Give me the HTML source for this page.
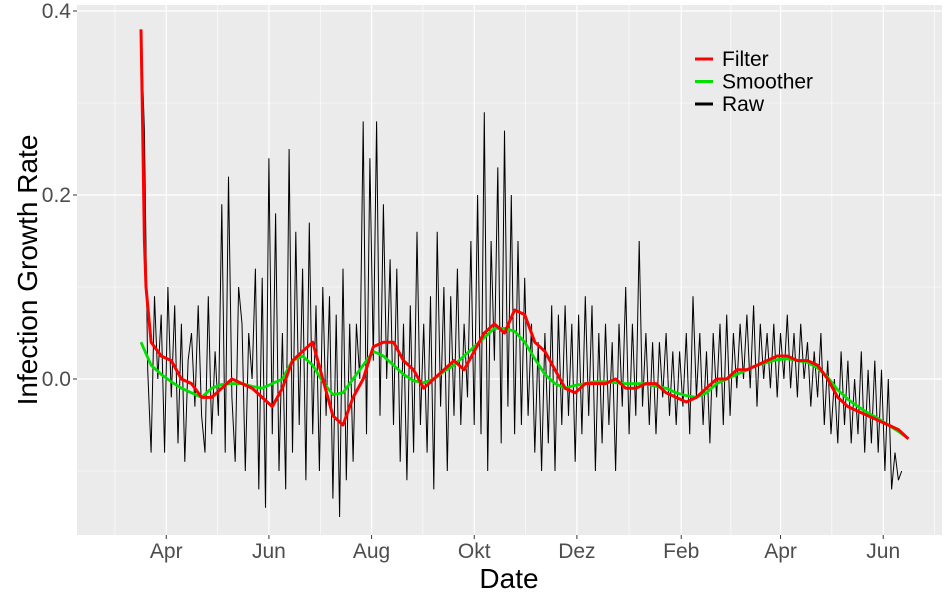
<!DOCTYPE html>
<html><head><meta charset="utf-8"><style>
body{margin:0;background:#fff;}
svg{display:block;font-family:"Liberation Sans",sans-serif;}
</style></head><body>
<svg id="chart" width="950" height="600"></svg>
<script>
const rawValues=[
0.38,0.27,0.01,-0.08,0.09,0.0,0.07,-0.08,0.10,-0.02,
0.08,-0.07,0.06,-0.09,0.02,0.05,-0.03,0.08,-0.04,-0.08,
0.09,-0.06,0.03,-0.04,0.19,-0.08,0.22,-0.02,-0.09,0.1,
0.06,-0.1,0.05,0.0,0.12,-0.12,0.11,-0.14,0.24,-0.06,
0.18,-0.1,0.05,-0.12,0.25,-0.08,0.16,-0.05,0.12,-0.11,
0.17,-0.06,0.08,-0.1,0.1,-0.04,0.09,-0.13,0.07,-0.15,
0.12,-0.11,0.06,-0.09,0.06,0.0,0.28,-0.06,0.24,0.02,
0.28,-0.04,0.19,0.0,0.13,-0.05,0.12,-0.09,0.06,-0.11,
0.08,-0.08,0.16,-0.05,0.06,-0.08,0.09,-0.12,0.16,-0.03,
0.10,-0.1,0.09,-0.04,0.12,-0.05,0.06,-0.02,0.15,-0.05,
0.2,-0.06,0.29,-0.1,0.15,0.02,0.23,-0.07,0.27,-0.03,
0.2,-0.06,0.15,-0.05,0.11,-0.04,0.06,-0.08,0.04,-0.1,
0.05,-0.07,0.08,-0.1,0.07,-0.05,0.08,-0.04,0.06,-0.09,
0.07,-0.06,0.09,-0.04,0.08,-0.1,0.05,-0.07,0.06,-0.05,
0.04,-0.1,0.06,-0.03,0.1,-0.06,0.06,-0.04,0.15,-0.03,
0.05,-0.05,0.04,-0.06,0.04,-0.02,0.05,-0.04,0.03,-0.05,
0.03,-0.03,0.05,-0.06,0.09,-0.02,0.05,-0.05,0.03,-0.07,
0.05,-0.02,0.06,-0.05,0.07,-0.04,0.05,-0.01,0.06,0.0,
0.07,-0.01,0.08,-0.03,0.06,0.0,0.05,-0.01,0.06,-0.02,
0.05,0.0,0.07,-0.01,0.05,-0.02,0.06,0.0,0.04,-0.03,
0.03,-0.02,0.05,-0.05,0.02,-0.06,0.0,-0.07,0.03,-0.05,
0.02,-0.07,0.0,-0.06,0.03,-0.08,0.01,-0.07,0.02,-0.08,
0.01,-0.1,0.0,-0.12,-0.08,-0.11,-0.1];
const rawStepDays=2;
const filterDays=[0,1,2,3,5,6,12,18,24,30,36,42,48,54,60,66,72,78,84,90,96,102,108,114,120,126,132,138,144,150,156,162,168,174,180,186,192,198,204,210,216,222,228,234,240,246,252,258,264,270,276,282,288,294,300,306,312,318,324,330,336,342,348,354,360,366,372,378,384,390,396,402,408,414,420,426,432,438,444,450,456];
const filterValues=[0.38,0.27,0.15,0.10,0.06,0.04,0.025,0.02,0.0,-0.005,-0.02,-0.02,-0.01,0.0,-0.005,-0.01,-0.02,-0.03,-0.01,0.02,0.03,0.04,0.0,-0.04,-0.05,-0.02,0.0,0.035,0.04,0.04,0.02,0.01,-0.01,0.0,0.01,0.02,0.01,0.03,0.05,0.06,0.05,0.075,0.07,0.04,0.03,0.01,-0.01,-0.015,-0.005,-0.005,-0.005,0.0,-0.01,-0.01,-0.005,-0.005,-0.015,-0.02,-0.025,-0.02,-0.01,0.0,0.0,0.01,0.01,0.015,0.02,0.025,0.025,0.02,0.02,0.015,0.0,-0.02,-0.03,-0.035,-0.04,-0.045,-0.05,-0.055,-0.065];
const smootherStepDays=6;
const smootherValues=[0.04,0.015,0.005,-0.003,-0.01,-0.015,-0.02,-0.01,-0.006,-0.005,-0.005,-0.008,-0.01,-0.005,0.0,0.02,0.025,0.015,-0.003,-0.017,-0.015,0.0,0.015,0.03,0.025,0.015,0.005,-0.002,-0.004,0.0,0.008,0.015,0.025,0.035,0.045,0.055,0.055,0.052,0.04,0.022,0.005,-0.005,-0.01,-0.007,-0.005,-0.003,-0.003,-0.004,-0.005,-0.005,-0.005,-0.008,-0.01,-0.015,-0.018,-0.02,-0.015,-0.005,0.0,0.005,0.01,0.015,0.018,0.021,0.022,0.02,0.018,0.012,0.002,-0.012,-0.022,-0.03,-0.037,-0.043,-0.05,-0.057,-0.065];
const yTicks=[0.0,0.2,0.4];
const yTickLabels=["0.0","0.2","0.4"];
const yMinor=[-0.1,0.1,0.3];
const xTickDates=["2020-04-01","2020-06-01","2020-08-01","2020-10-01","2020-12-01","2021-02-01","2021-04-01","2021-06-01"];
const xTickLabels=["Apr","Jun","Aug","Okt","Dez","Feb","Apr","Jun"];
const startDate="2020-03-17";

const NS="http://www.w3.org/2000/svg";
const svg=document.getElementById('chart');
const P={l:77,r:942,t:5,b:535};
const xs=d=>141+d*1.683;
const ys=v=>379-v*920;
const dayOf=s=>(Date.parse(s)-Date.parse(startDate))/86400000;
function mk(tag,attrs,parent){const e=document.createElementNS(NS,tag);for(const k in attrs)e.setAttribute(k,attrs[k]);(parent||svg).appendChild(e);return e;}

const panel=mk('rect',{x:P.l,y:P.t,width:P.r-P.l,height:P.b-P.t,fill:'#ebebeb'});


yMinor.forEach(v=>{const g=mk('line',{x1:P.l,x2:P.r,y1:ys(v),y2:ys(v),stroke:'#fff','stroke-width':0.6});

});
const tickXs=xTickDates.map(s=>xs(dayOf(s)));
const minorXs=[];
for(let i=0;i<tickXs.length-1;i++)minorXs.push((tickXs[i]+tickXs[i+1])/2);
minorXs.unshift(tickXs[0]-(tickXs[1]-tickXs[0])/2);
minorXs.push(tickXs[tickXs.length-1]+(tickXs[1]-tickXs[0])/2);
minorXs.forEach(x=>{const g=mk('line',{x1:x,x2:x,y1:P.t,y2:P.b,stroke:'#fff','stroke-width':0.6});

});
yTicks.forEach((v,i)=>{const y=ys(v);
const g=mk('line',{x1:P.l,x2:P.r,y1:y,y2:y,stroke:'#fff','stroke-width':1.2});


const t=mk('line',{x1:P.l-4,x2:P.l,y1:y,y2:y,stroke:'#333','stroke-width':1});


const l=mk('text',{x:P.l-6,y:y+7,'text-anchor':'end','font-size':21,fill:'#4d4d4d'});
l.textContent=yTickLabels[i];

});
tickXs.forEach((x,i)=>{
const g=mk('line',{x1:x,x2:x,y1:P.t,y2:P.b,stroke:'#fff','stroke-width':1.2});


const t=mk('line',{x1:x,x2:x,y1:P.b,y2:P.b+4,stroke:'#333','stroke-width':1});


const l=mk('text',{x:x,y:P.b+23,'text-anchor':'middle','font-size':21,fill:'#4d4d4d'});
l.textContent=xTickLabels[i];

});

const rawPts=rawValues.map((v,i)=>xs(i*rawStepDays).toFixed(1)+','+ys(v).toFixed(1)).join(' ');
const raw=mk('polyline',{points:rawPts,fill:'none',stroke:'#000','stroke-width':1});


const smPts=smootherValues.map((v,i)=>xs(i*smootherStepDays).toFixed(1)+','+ys(v).toFixed(1)).join(' ');
const sm=mk('polyline',{points:smPts,fill:'none',stroke:'#00e000','stroke-width':2.8,'stroke-linejoin':'round'});


const fPts=filterValues.map((v,i)=>xs(filterDays[i]).toFixed(1)+','+ys(v).toFixed(1)).join(' ');
const fl=mk('polyline',{points:fPts,fill:'none',stroke:'#ff0000','stroke-width':3,'stroke-linejoin':'round'});



const legendNames=["Filter","Smoother","Raw"];
const legendColors=["#ff0000","#00e000","#000000"];
legendNames.forEach((n,i)=>{const y=59+i*22.5;
const s=mk('line',{x1:695,x2:713,y1:y,y2:y,stroke:legendColors[i],'stroke-width':3});


const t=mk('text',{x:722,y:y+7,'font-size':21,fill:'#000'});
t.textContent=n;

});

const xt=mk('text',{x:509,y:588,'text-anchor':'middle','font-size':28,fill:'#000'});
xt.textContent='Date';


const yt=mk('text',{x:0,y:0,'text-anchor':'middle','font-size':28,fill:'#000',transform:'translate(37,270) rotate(-90)'});
yt.textContent='Infection Growth Rate';


</script>
</body></html>
